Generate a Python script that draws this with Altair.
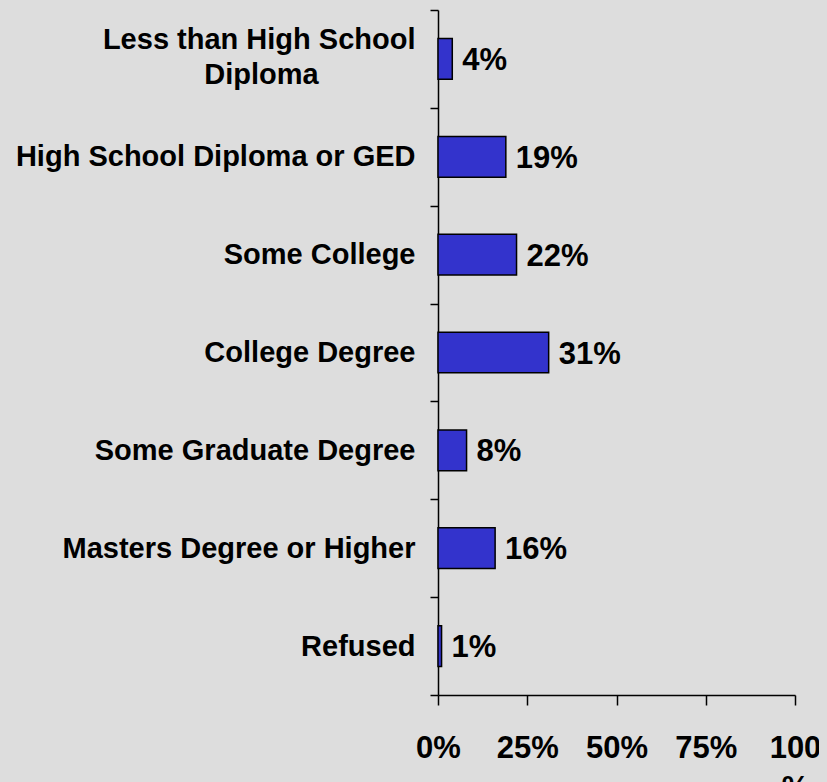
import altair as alt
import pandas as pd
import jinja2

categories = [
    "Less than High School Diploma",
    "High School Diploma or GED",
    "Some College",
    "College Degree",
    "Some Graduate Degree",
    "Masters Degree or Higher",
    "Refused",
]
values = [0.04, 0.19, 0.22, 0.31, 0.08, 0.16, 0.01]
x_ticks = [0, 0.25, 0.5, 0.75, 1.0]

df = pd.DataFrame({"cat": categories, "val": values})

FONT = "Liberation Sans"
PAD = "\u2007" * 6 + "\u2060"

y_label_expr = (
    "datum.value == 'Less than High School Diploma' ? "
    "['Less than High School', 'Diploma" + PAD + "'] : datum.label"
)
x_label_expr = "datum.value == 1 ? ['100', '%'] : format(datum.value, '.0%')"

y_enc = alt.Y(
    "cat:N",
    sort=categories,
    title=None,
    scale=alt.Scale(paddingInner=0, paddingOuter=0),
    axis=alt.Axis(
        labelExpr=y_label_expr,
        labelFont=FONT,
        labelFontSize=29,
        labelFontWeight="bold",
        labelColor="black",
        labelPadding=15,
        labelLimit=500,
        labelLineHeight=35,
        labelOffset={
            "condition": {
                "test": "datum.value == 'Less than High School Diploma'",
                "value": -19,
            },
            "value": 0,
        },
        tickBand="extent",
        tickSize=8,
        tickColor="black",
        tickWidth=1.5,
        domainColor="black",
        domainWidth=1.5,
        grid=False,
    ),
)

x_enc = alt.X(
    "val:Q",
    title=None,
    scale=alt.Scale(domain=[0, 1], nice=False),
    axis=alt.Axis(
        values=x_ticks,
        labelExpr=x_label_expr,
        labelFont=FONT,
        labelFontSize=31,
        labelFontWeight="bold",
        labelColor="black",
        labelPadding=28,
        labelLineHeight=40,
        labelFlush=False,
        labelOverlap=False,
        tickSize=10,
        tickColor="black",
        tickWidth=1.5,
        domainColor="black",
        domainWidth=1.5,
        grid=False,
    ),
)

bars = alt.Chart(df).mark_bar(
    color="#3333CC", stroke="black", strokeWidth=1.5, height={"band": 0.416}
).encode(x=x_enc, y=y_enc)

labels = alt.Chart(df).mark_text(
    align="left", baseline="middle", dx=10, dy=2,
    font=FONT, fontSize=31, fontWeight="bold", color="black"
).encode(
    x=alt.X("val:Q"),
    y=alt.Y("cat:N", sort=categories),
    text=alt.Text("val:Q", format=".0%"),
)

chart = (
    alt.layer(bars, labels)
    .properties(
        width=357,
        height=685,
        autosize=alt.AutoSizeParams(type="none"),
        padding={"left": 430, "top": 2, "right": 24, "bottom": 87},
        background="#DDDDDD",
    )
    .configure_view(stroke=None, fill="#DDDDDD")
)

TEMPLATE_SRC = """<!DOCTYPE html>
<html>
<head>
  <style>
    html, body { background: #DDDDDD; overflow: hidden; }
  </style>
  <script type="text/javascript" src="{{ base_url }}/vega@{{ vega_version }}"></script>
  <script type="text/javascript" src="{{ base_url }}/vega-lite@{{ vegalite_version }}"></script>
  <script type="text/javascript" src="{{ base_url }}/vega-embed@{{ vegaembed_version }}"></script>
</head>
<body>
  <div id="{{ output_div }}"></div>
  <script type="text/javascript">
    (function(spec, embedOpt){
      vegaEmbed("#{{ output_div }}", spec, embedOpt).catch(console.error);
    })({{ spec }}, {{ embed_options }});
  </script>
</body>
</html>
"""

template = jinja2.Template(TEMPLATE_SRC)

chart.save(
    "out.html",
    embed_options={"renderer": "svg", "actions": False},
    template=template,
)
